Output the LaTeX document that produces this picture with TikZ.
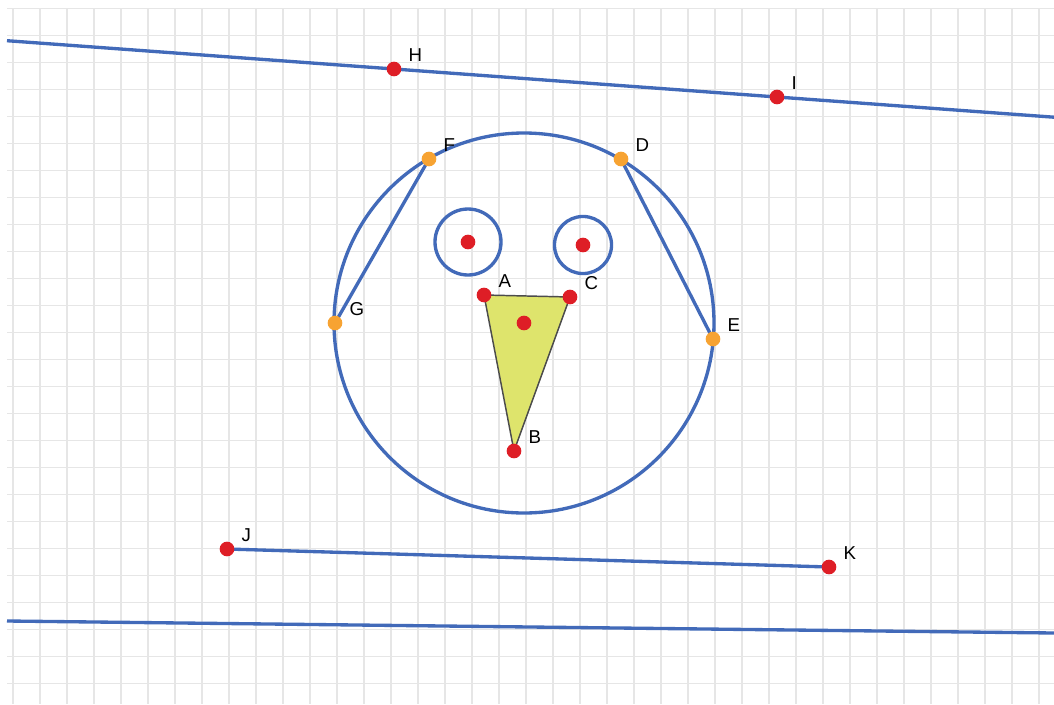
\documentclass[tikz,border=0pt]{standalone}
\usepackage{fontspec}
\setmainfont{Liberation Sans}
\usetikzlibrary{positioning}
\definecolor{lineblue}{RGB}{66,106,185}
\definecolor{dotred}{RGB}{222,30,38}
\definecolor{dotorange}{RGB}{247,163,50}
\definecolor{trifill}{RGB}{222,228,108}
\definecolor{gridgray}{RGB}{230,230,230}
\pgfdeclarelayer{bg}
\pgfsetlayers{bg,main}

\begin{document}
\begin{tikzpicture}[
    x=0.75pt, y=-0.75pt,
    pt/.style={circle, fill=dotred, inner sep=0pt, minimum size=11pt},
    ptorange/.style={pt, fill=dotorange},
    lbl/.style={font=\fontsize{14}{16}\selectfont, inner sep=1pt, text=black},
    every label/.style={lbl},
    label distance=5pt,
    seg/.style={draw=lineblue, line width=2.5pt},
    gridline/.style={draw=gridgray, line width=1.3pt},
    beak/.style={fill=trifill, draw=black!70, line width=1.1pt, line join=round}
]
    \useasboundingbox (0,0) rectangle (1054,704);

    % points
    \node[pt, label=25:H] (H) at (394,69) {};
    \node[pt, label=25:I] (I) at (777,97) {};
    \node[ptorange, label=25:F] (F) at (429,159) {};
    \node[ptorange, label=25:D] (D) at (621,159) {};
    \node[ptorange, label=25:G] (G) at (335,323) {};
    \node[ptorange, label=25:E] (E) at (713,339) {};
    \node[pt, label=25:A] (A) at (484,295) {};
    \node[pt, label=25:C] (C) at (570,297) {};
    \node[pt, label=25:B] (B) at (514,451) {};
    \node[pt] (O) at (524,323) {};
    \node[pt] (EyeL) at (468,242) {};
    \node[pt] (EyeR) at (583,245) {};
    \node[pt, label=25:J] (J) at (227,549) {};
    \node[pt, label=25:K] (K) at (829,567) {};

    % free line ends
    \coordinate (HIw) at (7,40.7);
    \coordinate (HIe) at (1054,117.2);
    \coordinate (BaseW) at (7,621);
    \coordinate (BaseE) at (1054,633);

    \begin{pgfonlayer}{bg}
        \fill[white] (0,0) rectangle (1054,704);
        % grid
        \foreach \gx in {0,...,38}
            \draw[gridline] ({13.3+27*\gx},8) -- ({13.3+27*\gx},704);
        \foreach \gy in {0,...,25}
            \draw[gridline] (7,{8.5+27*\gy}) -- (1054,{8.5+27*\gy});

        % beak
        \draw[beak] (A.center) -- (B.center) -- (C.center) -- cycle;

        % face and eyes
        \draw[seg] (O.center) circle[radius=142.5pt];
        \draw[seg] (EyeL.center) circle[radius=24.75pt];
        \draw[seg] (EyeR.center) circle[radius=21.4pt];

        % chords
        \draw[seg] (F.center) -- (G.center);
        \draw[seg] (D.center) -- (E.center);

        % lines
        \draw[seg] (HIw) -- (H.center) -- (I.center) -- (HIe);
        \draw[seg] (J.center) -- (K.center);
        \draw[seg] (BaseW) -- (BaseE);
    \end{pgfonlayer}
\end{tikzpicture}
\end{document}
